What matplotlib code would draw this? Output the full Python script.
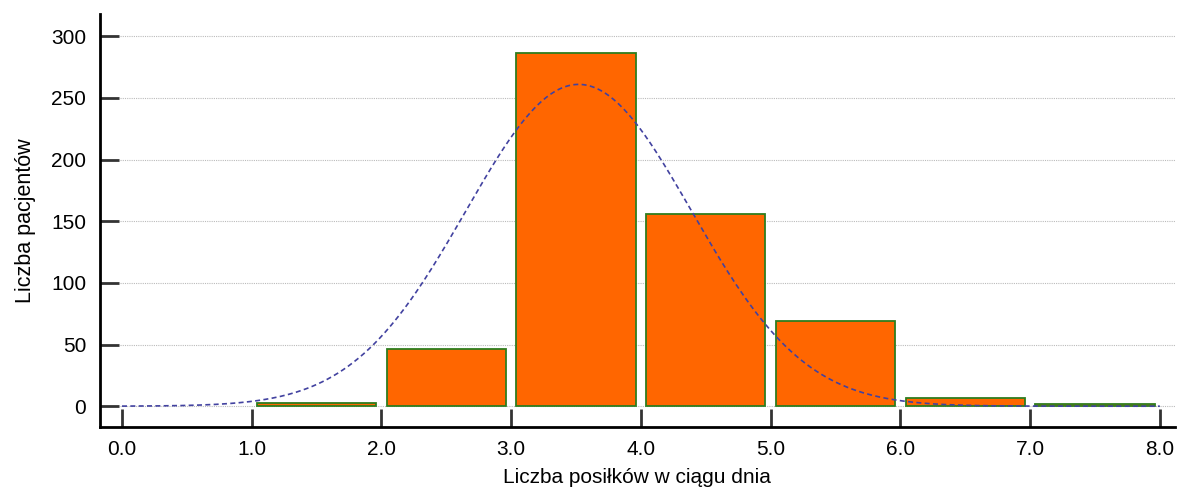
import numpy as np
import matplotlib
matplotlib.use("Agg")
import matplotlib.pyplot as plt

plt.rcParams['font.family'] = ['Liberation Sans', 'DejaVu Sans']

# histogram: meals per day -> patient count
bin_left = [1, 2, 3, 4, 5, 6, 7]
counts = [3, 46, 286, 156, 69, 7, 2]
# fitted normal curve parameters
fit_mean = 3.52
fit_sd = 0.87
fit_n = sum(counts)

x_ticks = [0, 1, 2, 3, 4, 5, 6, 7, 8]
y_ticks = [0, 50, 100, 150, 200, 250, 300]

fig = plt.figure(figsize=(11.8, 4.91), dpi=100)
ax = fig.add_axes([0.0847, 0.130, 0.911, 0.8415])

centers = np.array(bin_left) + 0.5
ax.bar(centers, counts, width=0.92, color="#FF6600", edgecolor="#2E7D1E",
       linewidth=1.3, zorder=2)

xs = np.linspace(0, 8, 400)
ys = fit_n * np.exp(-0.5 * ((xs - fit_mean) / fit_sd) ** 2) / (fit_sd * np.sqrt(2 * np.pi))
ax.plot(xs, ys, color="#4242A0", lw=1.2, ls=(0, (3, 2)), zorder=3)

ax.set_xlim(-0.17, 8.116)
ax.set_ylim(-17, 318)
for y in y_ticks:
    ax.axhline(y, xmin=0.019, color="#BBBBBB", lw=0.8, ls=(0, (1, 1)), zorder=1)

ax.set_xticks(x_ticks)
ax.set_xticklabels([f"{v:.1f}" for v in x_ticks])
ax.set_yticks(y_ticks)
ax.tick_params(direction="in", length=14, width=2, color="#333333",
               labelsize=15, pad=10)
ax.tick_params(axis="x", length=13, pad=9)

for s in ["top", "right"]:
    ax.spines[s].set_visible(False)
for s in ["left", "bottom"]:
    ax.spines[s].set_linewidth(2)
    ax.spines[s].set_color("black")

ax.set_xlabel("Liczba posiłków w ciągu dnia", fontsize=15, labelpad=7)
ax.set_ylabel("Liczba pacjentów", fontsize=15.5, labelpad=11)

fig.savefig("out.png", dpi=100)
